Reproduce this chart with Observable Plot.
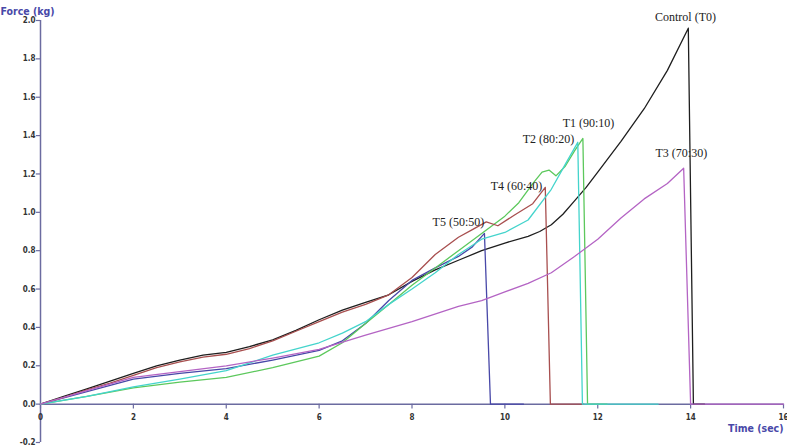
<!DOCTYPE html>
<html>
<head>
<meta charset="utf-8">
<script src="https://cdn.jsdelivr.net/npm/d3@7"></script>
<script src="https://cdn.jsdelivr.net/npm/@observablehq/plot@0.6"></script>
<style>
  html, body { margin: 0; padding: 0; background: #fff; }
  #chart svg { display: block; }
</style>
</head>
<body>
<div id="chart"></div>
<script>
// ---- data ----
const controlT = [0, 0.5, 1, 1.5, 2, 2.5, 3, 3.5, 4, 4.5, 5, 5.5, 6, 6.5, 7, 7.5, 8, 8.5, 9, 9.5, 10, 10.5, 10.75, 11, 11.25, 11.5, 11.75, 12, 12.5, 13, 13.5, 13.95, 14.06, 14.3];
const controlF = [0, 0.04, 0.08, 0.12, 0.16, 0.2, 0.23, 0.255, 0.27, 0.3, 0.335, 0.385, 0.44, 0.49, 0.53, 0.57, 0.64, 0.7, 0.75, 0.8, 0.84, 0.875, 0.9, 0.935, 0.99, 1.06, 1.13, 1.21, 1.37, 1.54, 1.74, 1.96, 0, 0];

const t1T = [0, 1, 2, 3, 4, 5, 6, 6.5, 7, 7.5, 8, 8.5, 9, 9.5, 10, 10.3, 10.6, 10.8, 10.95, 11.1, 11.3, 11.5, 11.68, 11.78, 12.2];
const t1F = [0, 0.04, 0.085, 0.115, 0.14, 0.19, 0.25, 0.32, 0.42, 0.52, 0.62, 0.71, 0.8, 0.89, 0.98, 1.05, 1.15, 1.21, 1.22, 1.19, 1.24, 1.32, 1.385, 0, 0];

const t2T = [0, 1, 2, 3, 4, 5, 6, 6.5, 7, 7.5, 8, 8.5, 9, 9.5, 10, 10.5, 11, 11.3, 11.57, 11.67, 13.3];
const t2F = [0, 0.04, 0.09, 0.13, 0.175, 0.255, 0.32, 0.37, 0.43, 0.52, 0.6, 0.685, 0.78, 0.86, 0.895, 0.96, 1.12, 1.25, 1.365, 0, 0];

const t3T = [0, 1, 2, 3, 4, 5, 6, 7, 8, 9, 9.5, 10, 10.5, 11, 11.5, 12, 12.5, 13, 13.5, 13.85, 14.0, 16];
const t3F = [0, 0.07, 0.14, 0.17, 0.2, 0.24, 0.285, 0.36, 0.43, 0.51, 0.54, 0.585, 0.63, 0.685, 0.77, 0.86, 0.97, 1.07, 1.15, 1.23, 0, 0];

const t4T = [0, 0.5, 1, 1.5, 2, 2.5, 3, 3.5, 4, 4.5, 5, 5.5, 6, 6.5, 7, 7.5, 8, 8.5, 9, 9.3, 9.6, 9.85, 10.2, 10.6, 10.87, 10.98, 11.7];
const t4F = [0, 0.035, 0.075, 0.11, 0.15, 0.19, 0.22, 0.245, 0.26, 0.29, 0.33, 0.38, 0.43, 0.48, 0.52, 0.57, 0.66, 0.78, 0.87, 0.91, 0.95, 0.93, 0.985, 1.045, 1.13, 0, 0];

const t5T = [0, 1, 2, 3, 4, 5, 6, 6.5, 7, 7.5, 8, 8.5, 9, 9.3, 9.56, 9.69, 10.4];
const t5F = [0, 0.065, 0.13, 0.16, 0.185, 0.23, 0.28, 0.33, 0.42, 0.54, 0.645, 0.71, 0.77, 0.82, 0.89, 0, 0];

// drawing order (first drawn lies underneath)
const seriesNames = ["Control (T0)", "T5 (50:50)", "T1 (90:10)", "T4 (60:40)", "T2 (80:20)", "T3 (70:30)"];
const seriesColors = ["#1e1e1e", "#4848a8", "#5cc85c", "#a84f4f", "#44d4cc", "#b464c4"];

const labelNames = ["Control (T0)", "T1 (90:10)", "T2 (80:20)", "T3 (70:30)", "T4 (60:40)", "T5 (50:50)"];
const labelT = [13.89, 11.80, 10.94, 13.80, 10.25, 9.0];
const labelF = [2.016, 1.464, 1.38, 1.307, 1.135, 0.948];

const xTicks = [0, 2, 4, 6, 8, 10, 12, 14, 16];
const yTicks = [-0.2, 0, 0.2, 0.4, 0.6, 0.8, 1.0, 1.2, 1.4, 1.6, 1.8, 2.0];

// ---- build table ----
const seriesT = {"Control (T0)": controlT, "T1 (90:10)": t1T, "T2 (80:20)": t2T, "T3 (70:30)": t3T, "T4 (60:40)": t4T, "T5 (50:50)": t5T};
const seriesF = {"Control (T0)": controlF, "T1 (90:10)": t1F, "T2 (80:20)": t2F, "T3 (70:30)": t3F, "T4 (60:40)": t4F, "T5 (50:50)": t5F};
const rows = [];
for (const name of seriesNames) {
  seriesT[name].forEach((t, i) => rows.push({series: name, t, f: seriesF[name][i]}));
}
const labels = labelNames.map((n, i) => ({name: n, t: labelT[i], f: labelF[i]}));
const yTickRows = yTicks.map(v => ({v, x0: 0}));
const xTickRows = xTicks.map(v => ({v, y0: 0}));

const axisColor = "#6b6ba0";
const tickFont = "'DejaVu Sans Condensed', 'DejaVu Sans', sans-serif";

const chart = Plot.plot({
  width: 787,
  height: 446,
  marginLeft: 40,
  marginRight: 4,
  marginTop: 20,
  marginBottom: 4,
  style: {background: "#fff", overflow: "visible"},
  x: {type: "linear", domain: [0, 16], axis: null},
  y: {type: "linear", domain: [-0.2, 2.0], axis: null},
  color: {domain: seriesNames, range: seriesColors},
  marks: [
    // axes lines
    Plot.ruleY([0], {x1: 0, x2: 16, stroke: axisColor, strokeWidth: 1.5}),
    Plot.ruleX([0], {y1: -0.2, y2: 2.0, stroke: axisColor, strokeWidth: 1.5}),
    // y ticks
    Plot.ruleY(yTickRows, {y: "v", x1: -0.09, x2: 0, stroke: axisColor, strokeWidth: 1.2}),
    Plot.text(yTickRows, {y: "v", x: "x0", text: d => d.v.toFixed(1), dx: -5, textAnchor: "end", fontSize: 8, fontWeight: "bold", fill: "#333", fontFamily: tickFont}),
    // x ticks
    Plot.ruleX(xTickRows, {x: "v", y1: 0, y2: -0.025, stroke: axisColor, strokeWidth: 1.2}),
    Plot.text(xTickRows, {x: "v", y: "y0", text: d => String(d.v), dy: 13, fontSize: 8, fontWeight: "bold", fill: "#333", fontFamily: tickFont}),
    // curves
    Plot.line(rows, {x: "t", y: "f", z: "series", stroke: "series", strokeWidth: 1.3, curve: "linear"}),
    // series labels
    Plot.text(labels, {x: "t", y: "f", text: "name", fontSize: 12, fill: "#222", fontFamily: "'Liberation Serif', 'DejaVu Serif', serif"}),
    // axis titles
    Plot.text(["Force (kg)"], {frameAnchor: "top-left", text: d => d, dx: -40, dy: -13, textAnchor: "start", fontSize: 10.5, fontWeight: "bold", fill: "#4848a8", fontFamily: "'DejaVu Sans Condensed', sans-serif"}),
    Plot.text(["Time (sec)"], {frameAnchor: "bottom-right", text: d => d, dx: 0, dy: -11, textAnchor: "end", fontSize: 10.5, fontWeight: "bold", fill: "#4848a8", fontFamily: "'DejaVu Sans Condensed', sans-serif"})
  ]
});
document.getElementById("chart").appendChild(chart);
</script>
</body>
</html>
